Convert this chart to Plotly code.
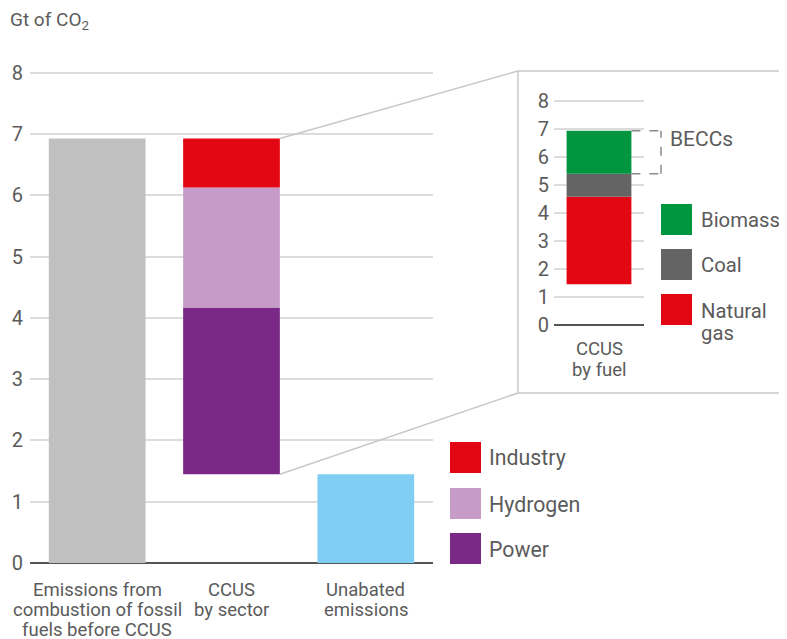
import plotly.graph_objects as go

# ---------------- data ----------------
main_categories = ["Emissions from<br>combustion of fossil<br>fuels before CCUS",
                   "CCUS<br>by sector", "Unabated<br>emissions"]
emissions_before_ccus = 6.93
unabated_emissions = 1.45
sector_names = ["Power", "Hydrogen", "Industry"]
sector_values = [2.72, 1.96, 0.80]
fuel_category = "CCUS<br>by fuel"
fuel_names = ["Natural gas", "Coal", "Biomass"]
fuel_values = [3.12, 0.82, 1.54]
y_ticks = [0, 1, 2, 3, 4, 5, 6, 7, 8]

# ---------------- style ----------------
W, H = 787, 639
OFF = 8  # page body margin offset
FONT = "Roboto"
TXT = "#5b5b5b"
GRID = "#dcdcdc"
ZERO = "#555555"
sector_colors = {"Power": "#7a2a86", "Hydrogen": "#c69bc8", "Industry": "#e30613"}
fuel_colors = {"Natural gas": "#e30613", "Coal": "#646464", "Biomass": "#009640"}
gray_col = "#c0c0c0"
blue_col = "#80cef4"
BW = 0.72

# main plot pixel frame (screen pixels)
MX0, MX1 = 30, 433
MY0 = 563            # y=0 pixel
MUNIT = 61.25        # px per unit
MTOP = 8.05
# inset pixel frame
IX0, IX1 = 554, 644
IY0 = 325
IUNIT = 28.04
ITOP = 8.1


def px(p):
    return (p - OFF) / W


def py(p):
    return 1 - (p - OFF) / H


def main_paper(x, y):
    xp = MX0 + (x + 0.5) / 3 * (MX1 - MX0)
    yp = MY0 - y * MUNIT
    return px(xp), py(yp)


def inset_paper(x, y):
    xp = IX0 + (x + 0.5) / 1 * (IX1 - IX0)
    yp = IY0 - y * IUNIT
    return px(xp), py(yp)


fig = go.Figure()

# main bars
fig.add_trace(go.Bar(x=[0], y=[emissions_before_ccus], width=BW, marker_color=gray_col,
                     marker_line_width=0, xaxis="x", yaxis="y", showlegend=False))
base = unabated_emissions
for name, val in zip(sector_names, sector_values):
    fig.add_trace(go.Bar(x=[1], y=[val], base=[base], width=BW, marker_color=sector_colors[name],
                         marker_line_width=0, xaxis="x", yaxis="y", showlegend=False, name=name))
    base += val
sector_top = base
fig.add_trace(go.Bar(x=[2], y=[unabated_emissions], width=BW, marker_color=blue_col,
                     marker_line_width=0, xaxis="x", yaxis="y", showlegend=False))

# inset bars
base = unabated_emissions
fuel_bounds = {}
for name, val in zip(fuel_names, fuel_values):
    fig.add_trace(go.Bar(x=[0], y=[val], base=[base], width=BW, marker_color=fuel_colors[name],
                         marker_line_width=0, xaxis="x2", yaxis="y2", showlegend=False, name=name))
    fuel_bounds[name] = (base, base + val)
    base += val

axis_common = dict(showline=False, ticks="", automargin=False,
                   tickfont=dict(family=FONT, size=20, color=TXT))
fig.update_layout(
    width=W, height=H, margin=dict(l=0, r=0, t=0, b=0, pad=0, autoexpand=False),
    paper_bgcolor="white", plot_bgcolor="rgba(0,0,0,0)", showlegend=False,
    barmode="overlay", font=dict(family=FONT, color=TXT),
    xaxis=dict(domain=[px(MX0), px(MX1)], range=[-0.5, 2.5], showgrid=False, zeroline=False,
               showticklabels=False, automargin=False, fixedrange=True),
    yaxis=dict(domain=[py(MY0), py(MY0 - MTOP * MUNIT)], range=[0, MTOP], tickvals=y_ticks,
               showgrid=True, gridcolor=GRID, gridwidth=1.5, zeroline=True, zerolinecolor=ZERO,
               zerolinewidth=2, ticklabelstandoff=6, **axis_common),
    xaxis2=dict(domain=[px(IX0), px(IX1)], range=[-0.5, 0.5], showgrid=False, zeroline=False,
                showticklabels=False, automargin=False, anchor="y2"),
    yaxis2=dict(domain=[py(IY0), py(IY0 - ITOP * IUNIT)], range=[0, ITOP], tickvals=y_ticks,
                anchor="x2", showgrid=True, gridcolor=GRID, gridwidth=1.5, zeroline=True,
                zerolinecolor=ZERO, zerolinewidth=2, ticklabelstandoff=4, **axis_common),
)

shapes = []
annotations = []

# y axis title
annotations.append(dict(x=px(8), y=py(20), xref="paper", yref="paper", xanchor="left",
                        yanchor="middle", showarrow=False, text="Gt of CO<sub>2</sub>",
                        font=dict(family=FONT, size=19, color=TXT)))

# category labels (main)
for i, lab in enumerate(main_categories):
    lines = lab.split("<br>")
    xp, _ = main_paper(i, 0)
    for j, ln in enumerate(lines):
        annotations.append(dict(x=xp, y=py(590 + j * 20), xref="paper", yref="paper",
                                xanchor="center", yanchor="middle", showarrow=False, text=ln,
                                font=dict(family=FONT, size=18.5, color=TXT)))
# inset category label
xp, _ = inset_paper(0, 0)
for j, ln in enumerate(fuel_category.split("<br>")):
    annotations.append(dict(x=xp, y=py(349 + j * 21), xref="paper", yref="paper",
                            xanchor="center", yanchor="middle", showarrow=False, text=ln,
                            font=dict(family=FONT, size=18.5, color=TXT)))

# inset box
BOX_L, BOX_T, BOX_B = 518, 71, 393
line_style = dict(color="#c8c8c8", width=1.5)
shapes.append(dict(type="line", xref="paper", yref="paper", x0=px(BOX_L), x1=1.05,
                   y0=py(BOX_T), y1=py(BOX_T), line=line_style))
shapes.append(dict(type="line", xref="paper", yref="paper", x0=px(BOX_L), x1=1.05,
                   y0=py(BOX_B), y1=py(BOX_B), line=line_style))
shapes.append(dict(type="line", xref="paper", yref="paper", x0=px(BOX_L), x1=px(BOX_L),
                   y0=py(BOX_T), y1=py(BOX_B), line=line_style))

# connectors from CCUS-by-sector bar to box
cx, cy_top = main_paper(1 + BW / 2, sector_top)
_, cy_bot = main_paper(1 + BW / 2, unabated_emissions)
shapes.append(dict(type="line", xref="paper", yref="paper", x0=cx, y0=cy_top,
                   x1=px(BOX_L), y1=py(BOX_T), line=line_style))
shapes.append(dict(type="line", xref="paper", yref="paper", x0=cx, y0=cy_bot,
                   x1=px(BOX_L), y1=py(BOX_B), line=line_style))

# BECCs dashed bracket
b0, b1 = fuel_bounds["Biomass"]
bx0, by0 = inset_paper(BW / 2, b0)
_, by1 = inset_paper(BW / 2, b1)
bx1 = px(661)
dash = dict(color="#8a8a8a", width=1.5, dash="dash")
shapes.append(dict(type="line", xref="paper", yref="paper", x0=bx0, x1=bx1, y0=by1, y1=by1, line=dash))
shapes.append(dict(type="line", xref="paper", yref="paper", x0=bx0, x1=bx1, y0=by0, y1=by0, line=dash))
shapes.append(dict(type="line", xref="paper", yref="paper", x0=bx1, x1=bx1, y0=by0, y1=by1, line=dash))
annotations.append(dict(x=px(668), y=py(139), xref="paper", yref="paper", xanchor="left",
                        yanchor="middle", showarrow=False, text="BECCs",
                        font=dict(family=FONT, size=21, color=TXT)))

# main legend
main_legend = [("Industry", 442), ("Hydrogen", 488), ("Power", 533)]
for name, top in main_legend:
    shapes.append(dict(type="rect", xref="paper", yref="paper", x0=px(450), x1=px(481),
                       y0=py(top), y1=py(top + 31), fillcolor=sector_colors[name], line_width=0))
    annotations.append(dict(x=px(487), y=py(top + 16), xref="paper", yref="paper", xanchor="left",
                            yanchor="middle", showarrow=False, text=name,
                            font=dict(family=FONT, size=21.3, color=TXT)))

# inset legend
inset_legend = [("Biomass", 204, ["Biomass"]), ("Coal", 249, ["Coal"]),
                ("Natural gas", 294, ["Natural", "gas"])]
for name, top, lines in inset_legend:
    shapes.append(dict(type="rect", xref="paper", yref="paper", x0=px(661), x1=px(692),
                       y0=py(top), y1=py(top + 31), fillcolor=fuel_colors[name], line_width=0))
    for j, ln in enumerate(lines):
        yc = top + 16 if len(lines) == 1 else top + 17 + j * 21.5
        annotations.append(dict(x=px(699), y=py(yc), xref="paper", yref="paper", xanchor="left",
                                yanchor="middle", showarrow=False, text=ln,
                                font=dict(family=FONT, size=20.3, color=TXT)))

fig.update_layout(shapes=shapes, annotations=annotations)
fig.write_html("out.html")
